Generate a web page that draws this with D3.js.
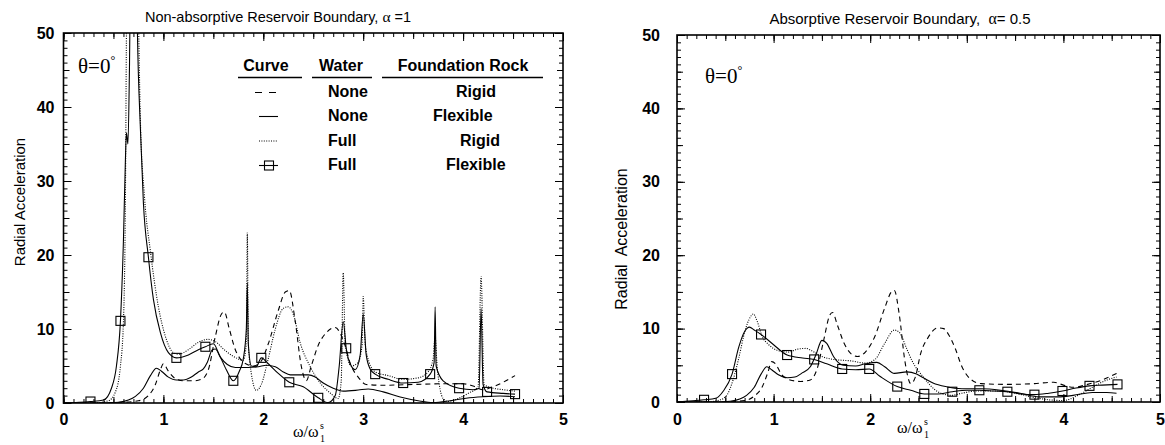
<!DOCTYPE html>
<html>
<head>
<meta charset="utf-8">
<script src="https://cdnjs.cloudflare.com/ajax/libs/d3/7.8.5/d3.min.js"></script>
<style>
body { margin: 0; background: #fff; }
</style>
</head>
<body>
<div id="chart"></div>
<script>
// x tick labels and y tick labels
const xTicks = [0, 1, 2, 3, 4, 5];
const yTicks = [0, 10, 20, 30, 40, 50];

// legend table
const legendCurve = ["dash", "solid", "dot", "square"];
const legendWater = ["None", "None", "Full", "Full"];
const legendRock = ["Rigid", "Flexible", "Rigid", "Flexible"];

// left panel: non-absorptive reservoir boundary, alpha = 1   ([x, y] or [x, y, marker])
const leftNoneRigid = [[0,0],[0.3,0],[0.6,0.1],[0.75,0.3],[0.85,1],[0.92,2.5],[0.97,4.5],[1.0,5.3],[1.05,4.3],[1.12,3.3],[1.2,3.0],[1.3,3.0],[1.38,3.2],[1.45,4.5],[1.52,9],[1.58,12.0],[1.61,12.3],[1.66,10],[1.72,7.2],[1.78,5.8],[1.84,5.2],[1.9,5.0],[1.97,5.5],[2.05,8],[2.15,12.5],[2.22,15.0],[2.26,15.2],[2.32,11],[2.38,5],[2.43,3.0],[2.48,5],[2.55,7.8],[2.63,9.5],[2.72,10.2],[2.8,8.5],[2.88,5],[2.95,3.5],[3.03,2.5],[3.2,2.4],[3.5,2.5],[3.8,2.6],[4.0,2.6],[4.1,2.3],[4.2,1.8],[4.3,2.2],[4.4,2.8],[4.52,3.7]];
const leftNoneFlex = [[0,0],[0.4,0],[0.55,0.1],[0.65,0.4],[0.72,0.9],[0.8,2],[0.87,3.7],[0.93,4.7],[0.98,4.3],[1.05,3.5],[1.13,3.1],[1.2,3.1],[1.28,3.5],[1.35,4.2],[1.4,4.6],[1.44,5.5],[1.49,7.2],[1.52,7.3],[1.57,6.2],[1.64,5.2],[1.72,4.8],[1.85,4.8],[1.95,4.9],[2.03,5.1],[2.12,4.9],[2.2,4.2],[2.27,3.8],[2.45,3.8],[2.52,3.5],[2.6,2.7],[2.7,2.0],[2.8,1.6],[2.95,1.75],[3.05,1.9],[3.2,1.5],[3.37,0.8],[3.55,0.3],[3.7,0.05],[3.87,0.3],[4.03,0.65],[4.2,0.85],[4.37,0.95],[4.52,0.85]];
const leftFullRigid = [[0,0],[0.3,0],[0.45,0.3],[0.52,1.5],[0.57,5],[0.6,11],[0.62,28],[0.63,50],[0.66,75],[0.7,80],[0.74,60],[0.77,38],[0.81,28],[0.87,20.5],[0.95,13],[1.02,9],[1.1,6.8],[1.15,6.6],[1.25,7.2],[1.35,8.2],[1.45,8.6],[1.52,8.3],[1.6,7.3],[1.7,6.3],[1.8,5.8],[1.83,8],[1.84,23],[1.85,8],[1.88,4],[1.93,1.7],[1.98,2.5],[2.05,6],[2.12,10],[2.2,12.8],[2.25,13.0],[2.3,12],[2.37,8.1],[2.47,4.9],[2.57,2.7],[2.67,1.35],[2.75,0.6],[2.78,3],[2.8,17.6],[2.82,8],[2.88,5],[2.95,5.5],[2.99,8],[3.0,14.4],[3.02,8],[3.06,5.5],[3.12,4.2],[3.25,3.7],[3.4,3.2],[3.55,3.4],[3.65,4.2],[3.7,6],[3.72,9],[3.74,5],[3.8,0.6],[3.85,0.2],[3.95,0.6],[4.05,1.3],[4.15,2.2],[4.18,17.1],[4.21,2.5],[4.3,2.0],[4.4,1.8],[4.52,1.6]];
const leftFullFlex = [[0,0],[0.27,0.2,1],[0.4,0.4],[0.48,2],[0.53,5],[0.57,11.1,1],[0.6,22],[0.62,33],[0.63,36.5],[0.645,35],[0.66,45],[0.68,70],[0.72,70],[0.74,50],[0.77,37],[0.8,27],[0.85,19.7,1],[0.9,14],[0.97,9.5],[1.05,6.8],[1.13,6.1,1],[1.25,6.5],[1.35,7.2],[1.42,7.6,1],[1.5,8.0],[1.56,6.5],[1.63,4.5],[1.7,3.0,1],[1.76,4.3],[1.8,6],[1.83,10],[1.84,16.2],[1.85,8],[1.88,5],[1.93,4.9],[1.98,6.1,1],[2.05,5.3],[2.15,4.0],[2.26,2.8,1],[2.4,2.2],[2.55,0.7,1],[2.65,0.05],[2.72,1],[2.76,5],[2.8,11],[2.83,7.4,1],[2.88,5],[2.92,4.5],[2.97,6.5],[3.0,12],[3.03,6.5],[3.07,4.6],[3.12,3.9,1],[3.25,3.2],[3.4,2.7,1],[3.55,2.8],[3.67,3.9,1],[3.71,5.5],[3.72,13],[3.73,5],[3.8,3.0],[3.96,2.0,1],[4.1,1.8],[4.16,2],[4.18,12.8],[4.2,2.5],[4.24,1.5,1],[4.4,1.3],[4.52,1.2,1]];

// right panel: absorptive reservoir boundary, alpha = 0.5
const rightNoneRigid = [[0,0],[0.5,0],[0.7,0.2],[0.8,0.8],[0.88,2],[0.94,4],[0.98,5.5],[1.02,5.2],[1.08,3.8],[1.17,3.0],[1.28,2.8],[1.38,3.0],[1.45,4.5],[1.52,8.5],[1.58,11.8],[1.61,12.2],[1.66,10.5],[1.73,8],[1.8,6.6],[1.87,6.2],[1.95,6.8],[2.05,9],[2.15,12.8],[2.22,15.0],[2.25,15.2],[2.3,12],[2.36,5.5],[2.42,2.5],[2.47,3.5],[2.52,6.5],[2.6,8.8],[2.7,10.1],[2.76,10.0],[2.82,9],[2.88,7.3],[2.95,4.8],[3.05,3.0],[3.15,2.5],[3.4,2.4],[3.7,2.5],[3.9,2.7],[4.0,2.3],[4.1,2.0],[4.25,2.4],[4.4,3.0],[4.55,3.9]];
const rightNoneFlex = [[0,0],[0.4,0],[0.55,0.1],[0.65,0.4],[0.72,0.9],[0.8,2],[0.87,3.8],[0.93,4.8],[0.98,4.4],[1.05,3.7],[1.14,3.3],[1.22,3.4],[1.3,4.0],[1.38,4.8],[1.44,6.5],[1.5,8.4],[1.55,8.0],[1.62,6.2],[1.72,5.0],[1.85,4.9],[1.95,5.2],[2.07,5.4],[2.15,4.8],[2.25,3.9],[2.38,4.1],[2.48,3.8],[2.55,3.3],[2.65,2.6],[2.78,2.1],[2.95,1.8],[3.15,1.8],[3.35,1.6],[3.55,1.2],[3.75,0.7],[3.95,0.7],[4.1,0.9],[4.3,1.3],[4.45,1.3],[4.55,1.2]];
const rightFullRigid = [[0,0],[0.3,0],[0.45,0.3],[0.52,1],[0.58,3],[0.64,6],[0.7,9.5],[0.76,11.6],[0.79,12],[0.83,11],[0.88,9],[0.95,7.8],[1.05,7],[1.15,6.8],[1.25,7.2],[1.33,7.3],[1.42,6.8],[1.5,6.2],[1.62,5.8],[1.8,5.6],[1.95,5.3],[2.05,5.8],[2.15,8],[2.25,9.8],[2.3,9.5],[2.38,7.2],[2.43,5.7],[2.55,3.4],[2.7,1.4],[2.84,0.9],[2.95,1.2],[3.1,1.5],[3.3,1.5],[3.5,1.2],[3.7,0.6],[3.85,0.3],[4.0,0.2],[4.15,0.9],[4.3,2.0],[4.45,3.0],[4.55,3.4]];
const rightFullFlex = [[0,0],[0.28,0.3,1],[0.4,0.5],[0.48,1.5],[0.57,3.8,1],[0.64,7.5],[0.7,9.6],[0.75,10.2],[0.8,9.8],[0.87,9.2,1],[1.0,7.8],[1.14,6.4,1],[1.3,6.0],[1.42,5.8,1],[1.55,5.2],[1.71,4.5,1],[1.85,4.4],[1.99,4.5,1],[2.1,3.5],[2.28,2.1,1],[2.42,1.6],[2.56,1.1,1],[2.7,1.1],[2.85,1.4,1],[3.0,1.6],[3.13,1.6,1],[3.28,1.5],[3.42,1.4,1],[3.56,1.1],[3.7,1.0,1],[3.85,1.2],[3.99,1.5,1],[4.13,1.9],[4.27,2.2,1],[4.4,2.3],[4.56,2.4,1]];

const SANS = "Liberation Sans, Arial, sans-serif";
const SERIF = "Liberation Serif, Times New Roman, serif";

const svg = d3.select("#chart").append("svg")
    .attr("width", 1165)
    .attr("height", 445);

// line styles for the four curves
const styles = {
    dash:   {dash: "5,4", width: 1.1},
    solid:  {dash: null, width: 1.1},
    dot:    {dash: "1,1.4", width: 1.1},
    square: {dash: null, width: 1.1}
};

function tickAxis(g, axisFn, scale, vals, len, labelled, pad) {
    const a = axisFn(scale).tickValues(vals).tickSizeInner(-len).tickSizeOuter(0).tickPadding(pad || 0)
        .tickFormat(labelled ? d3.format("d") : "");
    g.call(a);
    g.select(".domain").remove();
    g.selectAll("line").attr("stroke", "#000").attr("stroke-width", 1);
    g.attr("font-family", SANS).attr("font-size", 16).attr("font-weight", "bold");
    g.selectAll("text").attr("fill", "#000");
}

function drawPanel(p) {
    const x = d3.scaleLinear().domain([0, 5]).range([p.left, p.right]);
    const y = d3.scaleLinear().domain([0, 50]).range([p.bottom, p.top]);
    const g = svg.append("g");

    // ticks on all four sides, pointing inward
    const xMinor = d3.range(0, 51).map(d => d / 10);
    const xHalf = d3.range(0, 11).map(d => d / 2);
    const yMinor = d3.range(0, 51);
    const yHalf = d3.range(0, 51, 5);
    [[d3.axisBottom, p.bottom], [d3.axisTop, p.top]].forEach(([fn, pos], i) => {
        tickAxis(g.append("g").attr("transform", "translate(0," + pos + ")"), fn, x, xMinor, 4, false);
        tickAxis(g.append("g").attr("transform", "translate(0," + pos + ")"), fn, x, xHalf, 6, false);
        tickAxis(g.append("g").attr("transform", "translate(0," + pos + ")"), fn, x, xTicks, 8, i == 0, p.xPad);
    });
    [[d3.axisLeft, p.left], [d3.axisRight, p.right]].forEach(([fn, pos], i) => {
        tickAxis(g.append("g").attr("transform", "translate(" + pos + ",0)"), fn, y, yMinor, 4, false);
        tickAxis(g.append("g").attr("transform", "translate(" + pos + ",0)"), fn, y, yHalf, 6, false);
        tickAxis(g.append("g").attr("transform", "translate(" + pos + ",0)"), fn, y, yTicks, 8, i == 0, p.yPad);
    });

    g.append("rect")
        .attr("x", p.left).attr("y", p.top)
        .attr("width", p.right - p.left).attr("height", p.bottom - p.top)
        .attr("fill", "none").attr("stroke", "#000").attr("stroke-width", 1.6);

    // clip so the tall resonance peaks stop at the frame
    svg.append("clipPath").attr("id", "clip" + p.id)
        .append("rect")
        .attr("x", p.left).attr("y", p.top)
        .attr("width", p.right - p.left).attr("height", p.bottom - p.top);

    const line = d3.line()
        .x(d => x(d[0]))
        .y(d => y(d[1]))
        .curve(d3.curveMonotoneX);

    const plot = g.append("g").attr("clip-path", "url(#clip" + p.id + ")");
    p.series.forEach((s, i) => {
        const st = styles[legendCurve[i]];
        plot.append("path")
            .datum(s)
            .attr("d", line)
            .attr("fill", "none")
            .attr("stroke", "#000")
            .attr("stroke-width", st.width)
            .attr("stroke-dasharray", st.dash);
    });
    // square markers on the full-water / flexible-rock curve
    plot.selectAll("rect.mk")
        .data(p.series[3].filter(d => d[2]))
        .enter().append("rect")
            .attr("class", "mk")
            .attr("x", d => x(d[0]) - 4.5)
            .attr("y", d => y(d[1]) - 4.5)
            .attr("width", 9).attr("height", 9)
            .attr("fill", "none").attr("stroke", "#000").attr("stroke-width", 1.1);

    // title
    const t = svg.append("text")
        .attr("x", p.titleX).attr("y", p.titleY)
        .attr("text-anchor", "middle")
        .attr("font-family", SANS).attr("font-size", p.titleSize)
        .style("white-space", "pre");
    t.append("tspan").text(p.title[0]);
    t.append("tspan").attr("font-family", SERIF).attr("font-size", p.titleSize + 1).text(p.title[1]);
    t.append("tspan").text(p.title[2]);

    // theta label
    const th = svg.append("text")
        .attr("x", p.thetaX).attr("y", p.thetaY)
        .attr("font-family", SERIF).attr("font-size", 21);
    th.append("tspan").text("\u03b8=0");
    th.append("tspan").attr("font-size", 12).attr("dy", -9).text("\u00b0");

    // y axis title
    svg.append("text")
        .attr("transform", "translate(" + p.yLabX + "," + p.yLabY + ") rotate(-90)")
        .attr("text-anchor", "middle")
        .attr("font-family", SANS).attr("font-size", p.yLabSize)
        .style("white-space", "pre")
        .text(p.yLabel);

    // x axis title  omega / omega_1^s
    const xl = svg.append("text")
        .attr("x", p.xLabX).attr("y", p.xLabY)
        .attr("font-family", SERIF).attr("font-size", 16);
    xl.append("tspan").text("\u03c9/\u03c9");
    const sx = p.xLabX + 27;
    xl.append("tspan").attr("font-size", 10).attr("x", sx).attr("dy", 5).text("1");
    xl.append("tspan").attr("font-size", 10).attr("x", sx).attr("dy", -13).text("s");
}

function drawLegend() {
    const g = svg.append("g")
        .attr("font-family", SANS).attr("font-size", 16).attr("font-weight", "bold");
    const heads = [["Curve", 266, 238, 302], ["Water", 341, 312, 372], ["Foundation Rock", 463, 382, 543]];
    heads.forEach(h => {
        g.append("text").attr("x", h[1]).attr("y", 71).attr("text-anchor", "middle").text(h[0]);
        g.append("line").attr("x1", h[2]).attr("x2", h[3]).attr("y1", 77.5).attr("y2", 77.5)
            .attr("stroke", "#000").attr("stroke-width", 1.4);
    });
    const rowY = [97, 121, 145.5, 170];
    const rockX = [456, 433, 460, 446];
    legendCurve.forEach((c, i) => {
        const st = styles[c];
        const ly = rowY[i] - 4.5;
        g.append("line")
            .attr("x1", c == "dash" ? 255 : 259).attr("x2", 278)
            .attr("y1", ly).attr("y2", ly)
            .attr("stroke", "#000").attr("stroke-width", st.width)
            .attr("stroke-dasharray", c == "dash" ? "7,7" : st.dash);
        if (c == "square") {
            g.append("rect").attr("x", 264.5).attr("y", ly - 4.5).attr("width", 9).attr("height", 9)
                .attr("fill", "none").attr("stroke", "#000").attr("stroke-width", 1.1);
        }
        g.append("text").attr("x", 328).attr("y", rowY[i]).text(legendWater[i]);
        g.append("text").attr("x", rockX[i]).attr("y", rowY[i]).text(legendRock[i]);
    });
}

drawPanel({
    id: "L", left: 63.5, right: 563, top: 33, bottom: 403, xPad: 11, yPad: 9,
    series: [leftNoneRigid, leftNoneFlex, leftFullRigid, leftFullFlex],
    title: ["Non-absorptive Reservoir Boundary, ", "\u03b1", " =1"], titleX: 278, titleY: 22, titleSize: 14.5,
    thetaX: 78, thetaY: 73,
    yLabel: "Radial Acceleration", yLabX: 25, yLabY: 202, yLabSize: 15,
    xLabX: 293, xLabY: 437
});
drawPanel({
    id: "R", left: 677, right: 1160, top: 35, bottom: 402, xPad: 12, yPad: 17,
    series: [rightNoneRigid, rightNoneFlex, rightFullRigid, rightFullFlex],
    title: ["Absorptive Reservoir Boundary,  ", "\u03b1", "= 0.5"], titleX: 900, titleY: 24, titleSize: 15,
    thetaX: 705, thetaY: 83,
    yLabel: "Radial  Acceleration", yLabX: 627, yLabY: 239, yLabSize: 16,
    xLabX: 897, xLabY: 433
});
drawLegend();
</script>
</body>
</html>
